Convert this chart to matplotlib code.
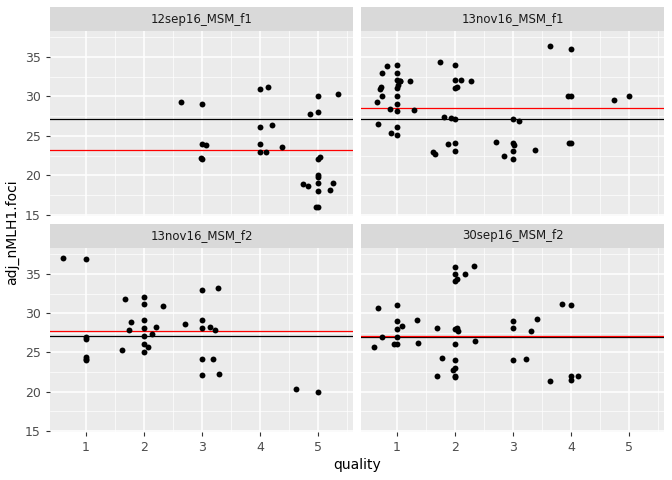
import matplotlib.pyplot as plt
import numpy as np

# facet data: quality (jittered) vs adj_nMLH1.foci
panels = ["12sep16_MSM_f1", "13nov16_MSM_f1", "13nov16_MSM_f2", "30sep16_MSM_f2"]

q_12sep_f1 = [2.63, 3, 3, 3.07, 2.98, 3, 4, 4.14, 4, 4.21, 4, 4.38, 4, 4.1, 5, 5.35, 4.86, 5,
              5, 5.04, 5, 5, 4.73, 4.82, 5, 5.26, 5, 5.21, 4.96, 5]
y_12sep_f1 = [29.25, 29.0, 24, 23.9, 22.2, 22.1, 31.0, 31.2, 26.1, 26.4, 24, 23.6, 23, 22.9, 30, 30.3,
              27.8, 28, 22.1, 22.3, 20, 19.8, 18.9, 18.7, 19, 19, 18, 18.1, 16, 16]

q_13nov_f1 = [3.64, 4, 1.74, 2, 0.83, 1, 0.74, 1, 1, 1.06, 1.05, 1.22, 2, 2.1, 2.27, 0.7, 0.73, 1, 1.02,
              2, 2.03, 0.74, 1, 0.66, 1, 0.88, 1.29, 1, 0.68, 1, 0.9, 1, 1.81, 1.93, 2, 1.88, 2, 2,
              1.62, 1.66, 3, 3.1, 2.71, 3, 3.02, 3, 3.37, 2.85, 3, 3.95, 4, 4.73, 5, 3.97, 4]
y_13nov_f1 = [36.4, 36.0, 34.4, 34, 33.9, 34, 33, 33, 32.1, 32, 31.9, 31.9, 32.1, 32.1, 32, 30.9, 31.2,
              31.1, 31.4, 31.1, 31.2, 30, 30, 29.25, 29.1, 28.4, 28.25, 28.1, 26.5, 26.1, 25.4, 25.1,
              27.4, 27.25, 27.1, 24, 24.1, 23.1, 22.9, 22.75, 27.1, 26.9, 24.25, 24.1, 23.9, 23.1,
              23.25, 22.4, 22.1, 30, 30.1, 29.6, 30.1, 24.1, 24.1]

q_13nov_f2 = [0.6, 1, 1, 1, 1, 1, 1, 1.67, 1.62, 1.74, 1.77, 2, 2, 2, 2, 2, 2, 2.07, 2, 2.14, 2.21,
              2.33, 2.71, 3, 3.28, 3, 3, 3.13, 3.23, 3, 3.19, 3, 3.29, 4.61, 5]
y_13nov_f2 = [37.05, 36.9, 27.0, 26.75, 24.4, 24.2, 24.0, 31.8, 25.25, 27.8, 28.9, 32.1, 31.1, 29.1,
              28.1, 27.1, 26.1, 25.7, 25.0, 27.4, 28.2, 30.9, 28.6, 33.0, 33.25, 29.1, 28.1, 28.2,
              27.9, 24.1, 24.1, 22.1, 22.2, 20.3, 20]

q_30sep_f2 = [2, 2.33, 2, 2.17, 2, 2.03, 0.67, 1, 1, 1.34, 1, 1.09, 1.69, 2, 2.03, 2.05, 0.74, 1, 0.6,
              0.95, 1, 1.36, 2, 2.35, 1.78, 2, 1.69, 2, 1.97, 2, 2, 3, 3, 3.41, 3.31, 3, 3.22, 3.85, 4,
              3.64, 4, 4.12, 4]
y_30sep_f2 = [35.9, 36.05, 35.05, 35.05, 34.05, 34.3, 30.7, 31.05, 29.0, 29.1, 28.0, 28.4, 28.1, 28,
              28.1, 27.75, 27.0, 27.0, 25.7, 26.05, 26.05, 26.2, 26.05, 26.4, 24.3, 24.05, 22.05,
              23.05, 22.8, 22.05, 21.8, 29.05, 28.05, 29.3, 27.7, 24.05, 24.2, 31.2, 31.05, 21.3,
              22.05, 22.05, 21.5]

quality = [q_12sep_f1, q_13nov_f1, q_13nov_f2, q_30sep_f2]
foci = [y_12sep_f1, y_13nov_f1, y_13nov_f2, y_30sep_f2]
black_line = [27.1, 27.1, 27.04, 27.0]
red_line = [23.2, 28.5, 27.67, 27.1]

W, H = 672, 480
fig = plt.figure(figsize=(W / 100, H / 100), dpi=100)

# pixel boxes (left, top, right, bottom) for panels
cols = [(50, 353), (361, 664)]
rows = [(31, 216), (248, 432)]
strip_h = 24

for i, name in enumerate(panels):
    r, c = divmod(i, 2)
    x0, x1 = cols[c]
    y0, y1 = rows[r]
    ax = fig.add_axes([x0 / W, 1 - y1 / H, (x1 - x0) / W, (y1 - y0) / H])
    ax.set_facecolor("#EBEBEB")
    ax.set_xlim(0.38, 5.6)
    ax.set_ylim(14.85, 38.3)
    ax.set_xticks([1, 2, 3, 4, 5])
    ax.set_yticks([15, 20, 25, 30, 35])
    ax.set_xticks([1.5, 2.5, 3.5, 4.5, 5.5], minor=True)
    ax.set_yticks([17.5, 22.5, 27.5, 32.5, 37.5], minor=True)
    ax.grid(True, which="major", color="white", lw=1.1)
    ax.grid(True, which="minor", color="white", lw=0.5)
    ax.set_axisbelow(True)
    for s in ax.spines.values():
        s.set_visible(False)
    ax.tick_params(which="minor", length=0)
    ax.tick_params(which="major", color="#333333", length=3, labelsize=9, labelcolor="#4D4D4D")
    if c == 1:
        ax.tick_params(axis="y", which="both", length=0, labelleft=False)
    if r == 0:
        ax.tick_params(axis="x", which="both", length=0, labelbottom=False)
    ax.axhline(black_line[i], color="black", lw=0.9)
    ax.axhline(red_line[i], color="red", lw=0.9)
    ax.scatter(quality[i], foci[i], s=18, color="black", zorder=3, linewidths=0)

    sax = fig.add_axes([x0 / W, 1 - y0 / H, (x1 - x0) / W, strip_h / H])
    sax.set_facecolor("#D9D9D9")
    sax.set_xticks([])
    sax.set_yticks([])
    for s in sax.spines.values():
        s.set_visible(False)
    sax.text(0.5, 0.5, name, ha="center", va="center", fontsize=8.5, color="#1A1A1A",
             transform=sax.transAxes)

fig.text((50 + 664) / 2 / W, 1 - 465 / H, "quality", ha="center", va="center", fontsize=10)
fig.text(12 / W, 1 - 232 / H, "adj_nMLH1.foci", ha="center", va="center", rotation=90, fontsize=10)

fig.savefig("out.png", dpi=100)
